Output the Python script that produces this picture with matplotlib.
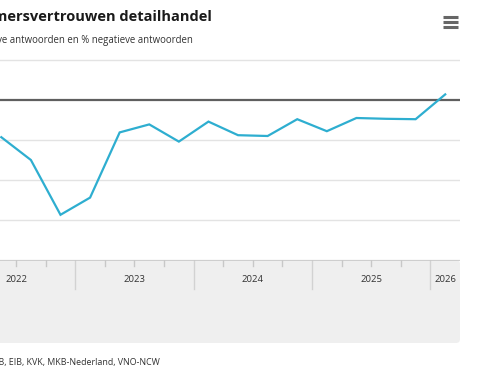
import matplotlib
matplotlib.use("Agg")
import matplotlib.pyplot as plt
from matplotlib.lines import Line2D
from matplotlib.patches import FancyBboxPatch

plt.rcParams["font.family"] = ["Open Sans", "DejaVu Sans"]

# quarterly balance (% positive minus % negative), plotted at mid-quarter
quarters = ["2022 Q2", "2022 Q3", "2022 Q4", "2023 Q1", "2023 Q2", "2023 Q3",
            "2023 Q4", "2024 Q1", "2024 Q2", "2024 Q3", "2024 Q4", "2025 Q1",
            "2025 Q2", "2025 Q3", "2025 Q4", "2026 Q1"]
saldo = [-9.3, -15.0, -28.7, -24.4, -8.1, -6.1, -10.4, -5.4, -8.8, -9.0,
         -4.8, -7.8, -4.5, -4.7, -4.8, 1.4]
years = [2022, 2023, 2024, 2025, 2026]
gridlines = [10, 0, -10, -20, -30, -40]

x = [int(q[:4]) + (int(q[-1]) - 0.5) / 4 for q in quarters]

W, H = 480, 384
fig = plt.figure(figsize=(W / 100, H / 100), dpi=100)
fig.patch.set_facecolor("white")

x0, x1 = 2022.364, 2026.25
px_per_year = 460 / (x1 - x0)


def fy(py):
    return (H - py) / H


ax = fig.add_axes([0, fy(260), 460 / W, (260 - 52) / H])
ax.set_xlim(x0, x1)
ax.set_ylim(-40, 12)
for g in gridlines:
    if g == 0:
        ax.axhline(g, color="#5f5f5f", lw=1.6, zorder=2)
    else:
        ax.axhline(g, color="#e3e3e3", lw=1.0, zorder=1)
ax.plot(x, saldo, color="#2eaed0", lw=1.6, zorder=3, solid_joinstyle="miter")
ax.set_axis_off()

# x-axis band with year labels
bx = fig.add_axes([0, fy(343), 460 / W, 83 / H])
bx.set_xlim(x0, x1)
bx.set_ylim(0, 83)
bx.set_axis_off()
band = FancyBboxPatch((x0 - 0.5, 0), x1 - x0 + 0.5, 83,
                      boxstyle="round,pad=0,rounding_size=%f" % (4 / px_per_year),
                      mutation_aspect=px_per_year,
                      transform=bx.transData, facecolor="#efefef",
                      edgecolor="none", clip_on=False, zorder=0)
bx.add_patch(band)
bx.axhline(83, color="#c8c8c8", lw=1.2, zorder=2)
for yr in years:
    for q in range(4):
        t = yr + q / 4
        if x0 < t < x1:
            if q == 0:
                bx.plot([t, t], [83, 54], color="#d2d2d2", lw=1.0, zorder=1)
            else:
                bx.plot([t, t], [83, 77], color="#c8c8c8", lw=1.0, zorder=1)
    mid = yr + 0.5
    if yr == 2026:
        mid = (2026 + x1) / 2
    bx.text(mid, 64, str(yr), ha="center", va="center", fontsize=6.8,
            color="#333333", zorder=3)

# header and footer
fig.text(212 / W, fy(17), "Ondernemersvertrouwen detailhandel", ha="right",
         va="center", fontsize=10.5, fontweight="bold", color="#1a1a1a")
fig.text(193 / W, fy(41), "Saldo % positieve antwoorden en % negatieve antwoorden",
         ha="right", va="center", fontsize=6.9, color="#333333")
fig.text(160 / W, fy(362), "Bron: CBS, DNB, EIB, KVK, MKB-Nederland, VNO-NCW",
         ha="right", va="center", fontsize=6.4, color="#333333")

# menu icon
for py in (17, 22, 27):
    fig.add_artist(Line2D([443 / W, 458 / W], [fy(py), fy(py)],
                          color="#666666", lw=2.2, solid_capstyle="butt"))

fig.savefig("out.png", dpi=100)
